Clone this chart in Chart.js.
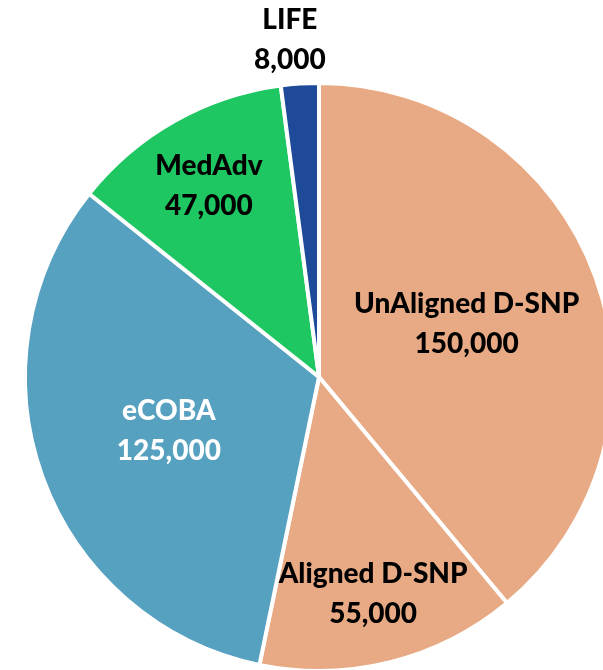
<!DOCTYPE html>
<html>
<head>
<meta charset="utf-8">
<script src="https://cdn.jsdelivr.net/npm/chart.js@4"></script>
<style>
  html, body { margin: 0; padding: 0; background: #fff; overflow: hidden; }
  .wrap { width: 638px; height: 670px; overflow: hidden; }
</style>
</head>
<body>
<div class="wrap"><canvas id="myChart" width="638" height="680"></canvas></div>
<script>
let labels = ['UnAligned D-SNP', 'Aligned D-SNP', 'eCOBA', 'MedAdv', 'LIFE'];
let values = [150000, 55000, 125000, 47000, 8000];
let colors = ['#E8AA85', '#E8AA85', '#56A0C0', '#1EC762', '#1F4A9A'];
let textColors = ['#000', '#000', '#fff', '#000', '#000'];
// where each label sits: fraction of radius, and small angle nudge (deg)
let labelRadius = [0.534, 0.76, 0.543, 0.75, 1.15];
let labelNudge = [0, 0, 0, -0.5, -1.2];

let pieLabels = {
  id: 'pieLabels',
  afterDatasetsDraw(chart) {
    const ctx = chart.ctx;
    const meta = chart.getDatasetMeta(0);
    ctx.save();
    ctx.font = '900 28px Lato';
    ctx.textAlign = 'center';
    ctx.textBaseline = 'middle';
    meta.data.forEach(function (arc, i) {
      const mid = (arc.startAngle + arc.endAngle) / 2 + labelNudge[i] * Math.PI / 180;
      const r = arc.outerRadius * labelRadius[i];
      const x = arc.x + Math.cos(mid) * r;
      const y = arc.y + Math.sin(mid) * r;
      ctx.fillStyle = textColors[i];
      ctx.fillText(labels[i], x, y - 20);
      ctx.fillText(values[i].toLocaleString('en-US'), x, y + 20);
    });
    ctx.restore();
  }
};

const ctx = document.getElementById('myChart');
new Chart(ctx, {
  type: 'pie',
  data: {
    labels: labels,
    datasets: [{
      data: values,
      backgroundColor: colors,
      borderColor: '#fff',
      borderWidth: 4
    }]
  },
  options: {
    responsive: false,
    animation: false,
    layout: { padding: { left: 23, right: 23, top: 81, bottom: 7 } },
    plugins: {
      legend: { display: false },
      tooltip: { enabled: false }
    }
  },
  plugins: [pieLabels]
});
</script>
</body>
</html>
